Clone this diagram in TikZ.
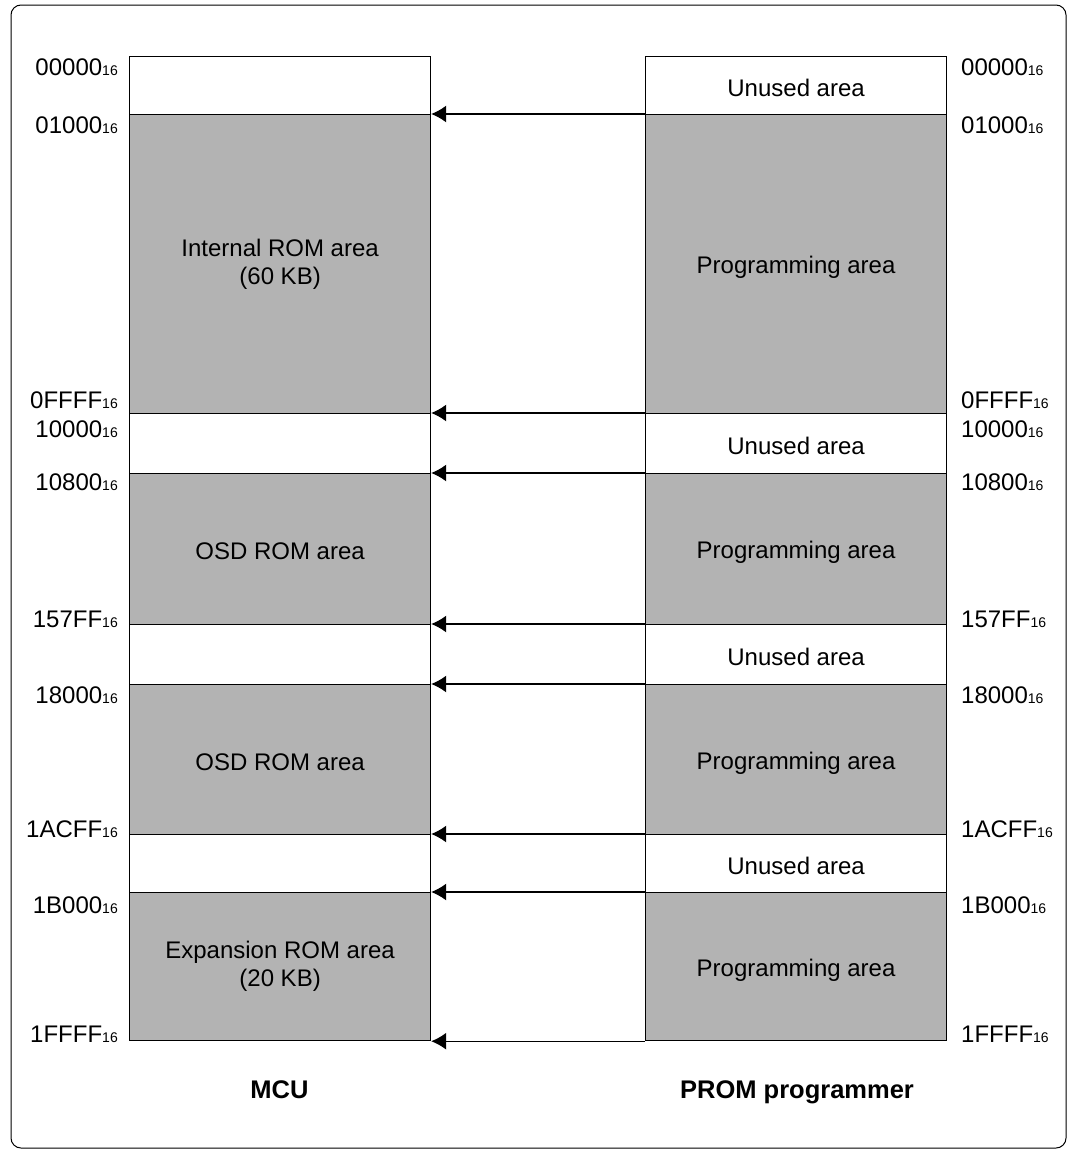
\documentclass[tikz,border=0pt]{standalone}
\usepackage{fontspec}
\setmainfont{Liberation Sans}
\usetikzlibrary{arrows.meta}
\definecolor{romgray}{HTML}{B3B3B3}
\newcommand{\hexaddr}[1]{#1{\fontsize{14}{16}\selectfont 16}}
\newcommand{\blkstrut}{\rule[-3pt]{0pt}{27pt}}

\begin{document}
\begin{tikzpicture}[
        x=1pt, y=-1pt,
        every node/.style={font=\fontsize{24}{28}\selectfont},
        blk/.style={draw, line width=1.2pt, minimum width=301pt, inner sep=0pt, anchor=north west, align=center,
            execute at begin node=\blkstrut, execute at end node=\blkstrut},
        used/.style={blk, fill=romgray},
        addrl/.style={anchor=base east, inner sep=0pt},
        addrr/.style={anchor=base west, inner sep=0pt},
        title/.style={anchor=base, font=\fontsize{25.5}{30}\selectfont\bfseries},
        arrow/.style={-{Latex[length=15pt, width=17pt]}, line width=1.2pt}
    ]
    \useasboundingbox (0,0) rectangle (1068,1151);
    \draw[line width=1pt, rounded corners=10pt] (11,5) rectangle (1066,1148);

    % MCU side
    \node[blk, minimum height=58pt] (m0) at (129,56) {};
    \node[used, minimum height=299pt] (m1) at (129,114) {Internal ROM area\\(60 KB)};
    \node[blk, minimum height=60pt] (m2) at (129,413) {};
    \node[used, minimum height=151pt] (m3) at (129,473) {OSD ROM area};
    \node[blk, minimum height=60pt] (m4) at (129,624) {};
    \node[used, minimum height=150pt] (m5) at (129,684) {OSD ROM area};
    \node[blk, minimum height=58pt] (m6) at (129,834) {};
    \node[used, minimum height=148pt] (m7) at (129,892) {Expansion ROM area\\(20 KB)};

    % PROM programmer side
    \node[blk, minimum height=58pt] (p0) at (645,56) {Unused area};
    \node[used, minimum height=299pt] (p1) at (645,114) {Programming area};
    \node[blk, minimum height=60pt] (p2) at (645,413) {Unused area};
    \node[used, minimum height=151pt] (p3) at (645,473) {Programming area};
    \node[blk, minimum height=60pt] (p4) at (645,624) {Unused area};
    \node[used, minimum height=150pt] (p5) at (645,684) {Programming area};
    \node[blk, minimum height=58pt] (p6) at (645,834) {Unused area};
    \node[used, minimum height=148pt] (p7) at (645,892) {Programming area};

    % Addresses
    \foreach \addr/\yb [count=\k] in {00000/75, 01000/133, 0FFFF/408, 10000/437, 10800/490,
            157FF/627, 18000/703, 1ACFF/837, 1B000/913, 1FFFF/1042} {
        \node[addrl] (la\k) at (118,\yb) {\hexaddr{\addr}};
        \node[addrr] (ra\k) at (961,\yb) {\hexaddr{\addr}};
    }

    % Connections
    \foreach \i in {1,...,7}
        \draw[arrow] (p\i.north west) -- (m\i.north east);
    \draw[arrow] (p7.south west) -- (m7.south east);

    \node[title] (mcu) at (279.5,1098) {MCU};
    \node[title] (prom) at (797,1098) {PROM programmer};
\end{tikzpicture}
\end{document}
